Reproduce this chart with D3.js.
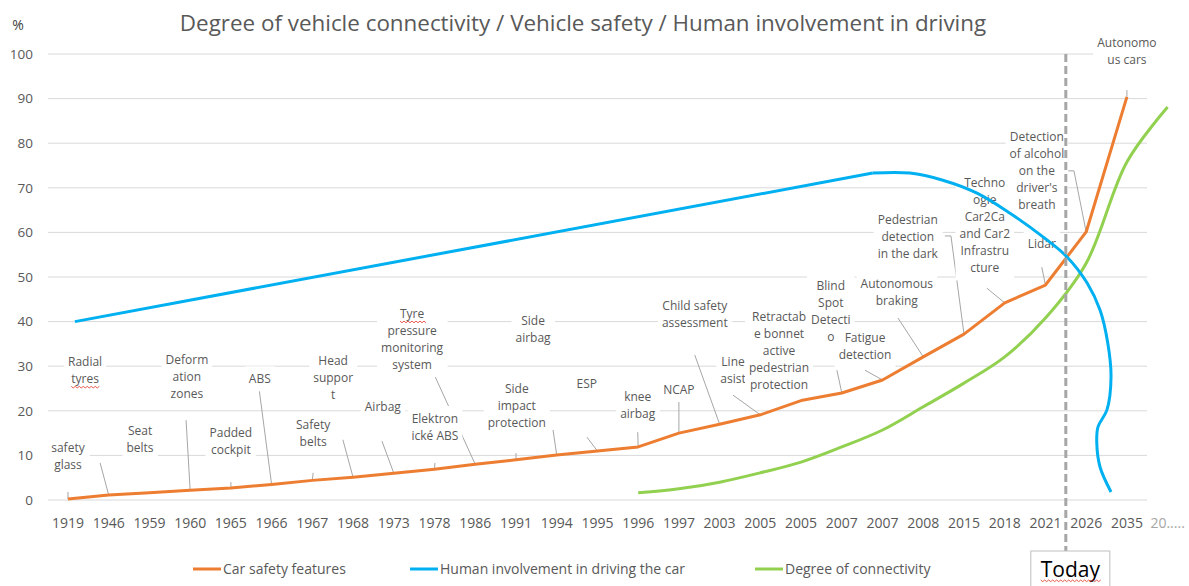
<!DOCTYPE html>
<html>
<head>
<meta charset="utf-8">
<script src="https://cdn.jsdelivr.net/npm/d3@7"></script>
<style>
body { margin: 0; background: #fff; }
text { font-family: "Open Sans", sans-serif; fill: #595959; }
</style>
</head>
<body>
<div id="chart"></div>
<script>
var width = 1189;
var height = 586;

// x categories (years of introduction)
var years = ["1919", "1946", "1959", "1960", "1965", "1966", "1967", "1968", "1973", "1978",
    "1986", "1991", "1994", "1995", "1996", "1997", "2003", "2005", "2005", "2007",
    "2007", "2008", "2015", "2018", "2021", "2026", "2035", "20....."];

// Car safety features (%)
var safety = [0.2, 1.1, 1.6, 2.2, 2.7, 3.5, 4.4, 5.1, 6.0, 6.9,
    8.0, 9.0, 10.1, 11.0, 11.9, 15.0, 17.0, 19.1, 22.3, 24.0,
    26.9, 32.1, 37.2, 44.2, 48.2, 60.1, 90.4, null];

// Degree of connectivity (%)
var connectivity = [null, null, null, null, null, null, null, null, null, null,
    null, null, null, null, 1.6, 2.5, 4.0, 6.1, 8.5, 11.9,
    15.7, 20.9, 26.2, 32.1, 40.8, 53.1, 75.8, 88.1];

// Human involvement in driving the car: position on the category axis and value
var humanPos = [0.17, 19.76, 20.67, 21.48, 22.32, 23.13, 23.94, 24.53, 25.02, 25.34, 25.53, 25.61, 25.51, 25.29, 25.26, 25.34, 25.61];
var humanVal = [40.0, 73.3, 73.3, 71.7, 68.8, 64.3, 59.0, 54.5, 48.7, 42.6, 35.2, 27.6, 20.2, 16.4, 12.8, 7.4, 1.8];

var yTicks = [0, 10, 20, 30, 40, 50, 60, 70, 80, 90, 100];

// data labels of the safety series (one per point)
var featureText = [
    ["safety", "glass"], ["Radial", "tyres"], ["Seat", "belts"], ["Deform", "ation", "zones"],
    ["Padded", "cockpit"], ["ABS"], ["Safety", "belts"], ["Head", "suppor", "t"], ["Airbag"],
    ["Elektron", "ické ABS"], ["Tyre", "pressure", "monitoring", "system"], ["Side", "impact", "protection"],
    ["Side", "airbag"], ["ESP"], ["knee", "airbag"], ["NCAP"], ["Child safety", "assessment"],
    ["Line", "asist"], ["Retractab", "e bonnet", "active", "pedestrian", "protection"],
    ["Blind", "Spot", "Detecti", "o"], ["Fatigue", "detection"], ["Autonomous", "braking"],
    ["Pedestrian", "detection", "in the dark"], ["Techno", "ogie", "Car2Ca", "and Car2", "Infrastru", "cture"],
    ["Lidar"], ["Detection", "of alcohol", "on the", "driver's", "breath"], ["Autonomo", "us cars"]
];
// label centres in data units [category position, value]
var featureAt = [
    [0, 9.75], [0.42, 29.0], [1.77, 13.6], [2.92, 27.6], [4.0, 13.1], [4.71, 27.1], [6.02, 14.9],
    [6.51, 27.4], [7.73, 20.9], [9.01, 16.3], [8.45, 36.0], [11.02, 21.1], [11.42, 38.2], [12.74, 26.0],
    [13.99, 21.2], [15.0, 24.7], [15.39, 41.6], [16.33, 29.0], [17.46, 33.5], [18.73, 42.4], [19.57, 34.4],
    [20.35, 46.5], [20.62, 59.0], [22.51, 61.5], [23.91, 57.4], [23.79, 73.9], [26.0, 100.6]
];
// leader line start(s) in data units, ending at the labelled point
var featureLead = [
    [[0, 1.8]], [[0.79, 8.3]], null, [[2.90, 17.9]], [[4.0, 4.0]], [[4.69, 25.1]], [[6.02, 6.1]],
    [[6.75, 13.5]], [[7.71, 13.2]], [[9.01, 8.3]], [[8.48, 36.3], [8.58, 36.3]], [[11.0, 10.5]],
    [[11.91, 15.7]], [[12.74, 14.1]], [[13.99, 15.2]], [[15.0, 22.0]], [[15.39, 32.5]], [[16.33, 23.5]],
    null, [[18.88, 29.1]], [[19.57, 29.1]], [[20.38, 40.8]], [[21.53, 59.2], [21.68, 59.2]],
    [[22.56, 47.5]], [[23.91, 52.2]], [[24.55, 73.8], [24.70, 73.8]], [[26.0, 91.9]]
];

var flagged = ["tyres", "Tyre", "Today"];

var seriesNames = ["Car safety features", "Human involvement in driving the car", "Degree of connectivity"];
var seriesColors = ["#ED7D31", "#00B0F0", "#92D050"];

var svg = d3.select("#chart").append("svg")
    .attr("width", width)
    .attr("height", height);

var x = d3.scaleBand()
    .domain(d3.range(years.length))
    .range([47.6, 1188]);
var half = x.bandwidth() / 2;
var xc = d3.scaleLinear()
    .domain([0, years.length - 1])
    .range([x(0) + half, x(years.length - 1) + half]);
var y = d3.scaleLinear().domain([0, 100]).range([500, 54]);
var gridRight = 1147;

// title
svg.append("text")
    .attr("x", 583).attr("y", 31)
    .attr("text-anchor", "middle")
    .style("font-size", "22.4px")
    .text("Degree of vehicle connectivity / Vehicle safety / Human involvement in driving");
svg.append("text")
    .attr("x", 18).attr("y", 30)
    .attr("text-anchor", "middle")
    .style("font-size", "14px")
    .style("fill", "#404040")
    .text("%");

// grid + y labels
svg.append("g").selectAll("line")
    .data(yTicks).enter().append("line")
    .attr("x1", 48).attr("x2", gridRight)
    .attr("y1", function(d) { return y(d); })
    .attr("y2", function(d) { return y(d); })
    .attr("stroke", "#d9d9d9").attr("stroke-width", 1);
svg.append("g").selectAll("text")
    .data(yTicks).enter().append("text")
    .attr("x", 33)
    .attr("y", function(d) { return y(d); })
    .attr("dy", "0.35em")
    .attr("text-anchor", "end")
    .style("font-size", "13.5px")
    .text(function(d) { return d; });

// x labels
svg.append("g").selectAll("text")
    .data(years).enter().append("text")
    .attr("x", function(d, i) { return xc(i); })
    .attr("y", 528)
    .attr("text-anchor", "middle")
    .style("font-size", "14px")
    .style("fill", function(d, i) { return i == years.length - 1 ? "#a6a6a6" : "#595959"; })
    .text(function(d) { return d; });

function squiggle(g, x0, x1, yy) {
    var p = "M" + x0 + "," + yy;
    for (var xx = x0, k = 0; xx < x1; xx += 2, k++) {
        p += "L" + (xx + 2) + "," + (yy + (k % 2 ? 0 : 1.6));
    }
    g.append("path").attr("d", p).attr("fill", "none")
        .attr("stroke", "#e03020").attr("stroke-width", 0.8);
}

// leader lines
var leadG = svg.append("g");
featureLead.forEach(function(lead, i) {
    if (!lead) return;
    var pts = lead.concat([[i, safety[i]]]);
    leadG.append("path")
        .attr("d", d3.line()
            .x(function(d) { return xc(d[0]); })
            .y(function(d) { return y(d[1]); })(pts))
        .attr("fill", "none")
        .attr("stroke", "#a6a6a6")
        .attr("stroke-width", 1);
});

// data labels with white boxes
var lineH = 17;
var labG = svg.append("g");
featureText.forEach(function(lines, i) {
    var g = labG.append("g");
    var cx = xc(featureAt[i][0]);
    var cy = y(featureAt[i][1]);
    var top = cy - (lines.length - 1) * lineH / 2;
    var rect = g.append("rect").attr("fill", "#fff");
    var texts = lines.map(function(s, k) {
        return g.append("text")
            .attr("x", cx)
            .attr("y", top + k * lineH)
            .attr("dy", "0.35em")
            .attr("text-anchor", "middle")
            .style("font-size", "12px")
            .text(s);
    });
    var bb = g.node().getBBox();
    rect.attr("x", bb.x - 4).attr("y", bb.y - 4)
        .attr("width", bb.width + 8).attr("height", bb.height + 8);
    texts.forEach(function(t) {
        if (flagged.indexOf(t.text()) >= 0) {
            var b = t.node().getBBox();
            squiggle(g, b.x, b.x + b.width, b.y + b.height - 1);
        }
    });
});

// series
var line = d3.line()
    .defined(function(d) { return d != null; })
    .x(function(d, i) { return xc(i); })
    .y(function(d) { return y(d); });

svg.append("path")
    .attr("d", line(safety))
    .attr("fill", "none")
    .attr("stroke", seriesColors[0])
    .attr("stroke-width", 3)
    .attr("stroke-linejoin", "round");

var firstGreen = connectivity.findIndex(function(d) { return d != null; });
var greenPts = connectivity.map(function(d, i) { return [i, d]; }).slice(firstGreen);
svg.append("path")
    .attr("d", d3.line()
        .x(function(d) { return xc(d[0]); })
        .y(function(d) { return y(d[1]); })
        .curve(d3.curveCatmullRom.alpha(0.5))(greenPts))
    .attr("fill", "none")
    .attr("stroke", seriesColors[2])
    .attr("stroke-width", 3);

var humanPts = humanPos.map(function(p, i) { return [p, humanVal[i]]; });
var hLine = d3.line()
    .x(function(d) { return xc(d[0]); })
    .y(function(d) { return y(d[1]); });
svg.append("path")
    .attr("d", hLine(humanPts.slice(0, 2)))
    .attr("fill", "none")
    .attr("stroke", seriesColors[1])
    .attr("stroke-width", 3);
svg.append("path")
    .attr("d", hLine.curve(d3.curveCatmullRom.alpha(0.5))(humanPts.slice(1)))
    .attr("fill", "none")
    .attr("stroke", seriesColors[1])
    .attr("stroke-width", 3);

// "Today" marker between 2021 and 2026
var todayX = (xc(24) + xc(25)) / 2;
svg.append("line")
    .attr("x1", todayX).attr("x2", todayX)
    .attr("y1", y(100)).attr("y2", 551)
    .attr("stroke", "#a6a6a6")
    .attr("stroke-width", 3)
    .attr("stroke-dasharray", "8,4");
var tg = svg.append("g");
tg.append("rect")
    .attr("x", todayX - 35).attr("y", 551)
    .attr("width", 79).attr("height", 40)
    .attr("fill", "#fff")
    .attr("stroke", "#bfbfbf");
var tt = tg.append("text")
    .attr("x", todayX + 4.5).attr("y", 577)
    .attr("text-anchor", "middle")
    .style("font-size", "21px")
    .style("fill", "#000")
    .text("Today");
var tb = tt.node().getBBox();
squiggle(tg, tb.x, tb.x + tb.width, 580);

// legend
var legX = [193, 410, 755];
var leg = svg.append("g").selectAll("g")
    .data(seriesNames).enter().append("g")
    .attr("transform", function(d, i) { return "translate(" + legX[i] + ",569)"; });
leg.append("line")
    .attr("x1", 0).attr("x2", 28)
    .attr("stroke", function(d, i) { return seriesColors[i]; })
    .attr("stroke-width", 3);
leg.append("text")
    .attr("x", 30).attr("dy", "0.35em")
    .style("font-size", "14px")
    .text(function(d) { return d; });
</script>
</body>
</html>
